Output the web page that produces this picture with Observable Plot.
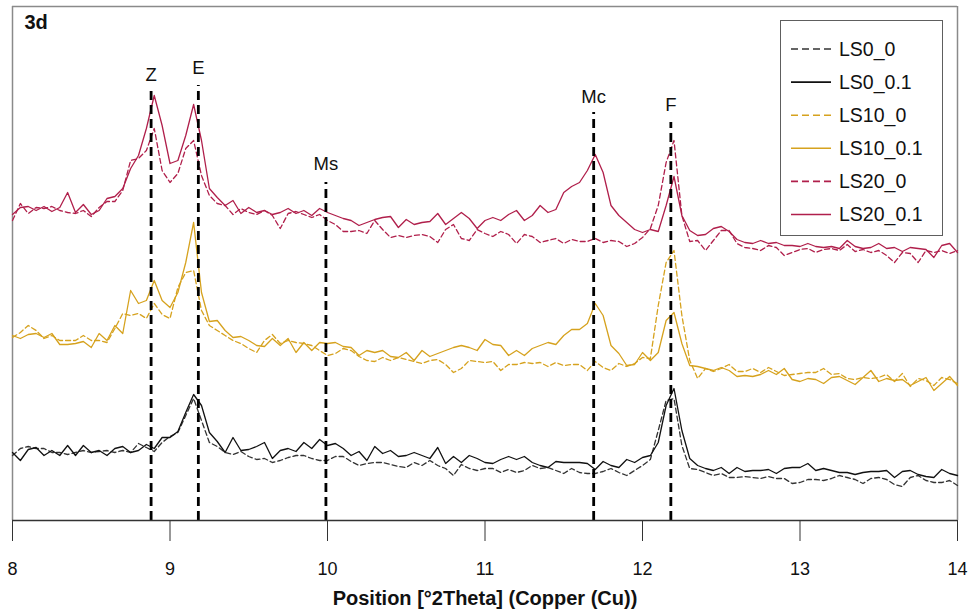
<!DOCTYPE html>
<html>
<head>
<meta charset="utf-8">
<script src="https://cdn.jsdelivr.net/npm/d3@7"></script>
<script src="https://cdn.jsdelivr.net/npm/@observablehq/plot@0.6"></script>
<style>
  html, body { margin: 0; padding: 0; background: #fff; }
  #wrap { position: relative; width: 974px; height: 609px; font-family: "Liberation Sans", Arial, sans-serif; }
  #legend { position: absolute; left: 780px; top: 20px; width: 161px; height: 214px; border: 1.3px solid #5e5e5e; background: #fff; }
</style>
</head>
<body>
<div id="wrap"></div>
<script>
// 2-theta positions (degrees)
const theta = [
  8.00,8.05,8.10,8.15,8.20,8.25,8.30,8.35,8.40,8.45,8.50,8.55,8.60,8.65,8.70,8.75,8.80,8.85,8.90,8.95,
  9.00,9.05,9.10,9.15,9.20,9.25,9.30,9.35,9.40,9.45,9.50,9.55,9.60,9.65,9.70,9.75,9.80,9.85,9.90,9.95,
  10.00,10.05,10.10,10.15,10.20,10.25,10.30,10.35,10.40,10.45,10.50,10.55,10.60,10.65,10.70,10.75,10.80,10.85,10.90,10.95,
  11.00,11.05,11.10,11.15,11.20,11.25,11.30,11.35,11.40,11.45,11.50,11.55,11.60,11.65,11.70,11.75,11.80,11.85,11.90,11.95,
  12.00,12.05,12.10,12.15,12.20,12.25,12.30,12.35,12.40,12.45,12.50,12.55,12.60,12.65,12.70,12.75,12.80,12.85,12.90,12.95,
  13.00,13.05,13.10,13.15,13.20,13.25,13.30,13.35,13.40,13.45,13.50,13.55,13.60,13.65,13.70,13.75,13.80,13.85,13.90,13.95,
  14.00
];

// Intensities (arbitrary units, offset patterns as in the figure)
const LS0_0 = [
  65,72,74,72,72,68,68,66,68,70, 68,69,70,68,70,68,77,73,69,78,
  84,88,105,122,100,78,74,68,66,69, 64,61,62,58,60,63,65,65,62,60,
  60,64,64,59,55,57,58,58,56,54, 53,58,55,60,55,52,45,56,52,50,
  52,52,48,51,48,50,55,52,53,50, 47,52,48,47,47,49,52,48,45,50,
  55,61,90,120,122,75,52,51,48,45, 47,43,43,44,43,42,44,42,42,37,
  38,41,41,40,42,45,43,41,37,42, 43,41,36,34,43,45,40,38,38,40,
  35
];
const LS0_01 = [
  68,60,71,73,65,70,65,75,65,75, 68,70,65,72,74,68,70,76,72,83,
  83,89,108,126,115,88,79,68,83,70, 71,74,78,62,70,72,69,78,72,81,
  75,77,72,65,69,60,74,67,70,64, 65,68,65,62,73,57,64,58,65,62,
  58,57,61,64,61,64,58,55,53,59, 58,58,58,57,51,59,55,53,61,58,
  63,65,78,115,132,90,62,55,52,50, 53,47,53,49,50,50,51,47,52,53,
  53,57,50,52,50,48,48,46,48,49, 49,50,43,49,50,46,44,43,51,47,
  45
];
const LS10_0 = [
  183,188,195,190,182,185,180,180,180,185, 180,180,178,192,207,205,207,202,217,206,
  202,233,248,250,210,195,190,185,180,177, 172,168,180,186,177,180,178,177,175,170,
  165,167,172,170,164,160,159,163,160,163, 161,159,157,160,161,156,148,152,160,159,
  158,159,150,156,156,158,157,158,154,158, 155,156,156,150,159,153,150,157,154,157,
  163,162,215,258,270,205,160,142,152,149, 152,156,149,149,152,148,153,149,145,146,
  147,148,148,152,146,147,142,141,143,142, 143,146,139,147,134,142,140,135,143,141,
  137
];
const LS10_01 = [
  185,182,186,187,183,187,176,176,177,179, 173,187,180,195,187,230,217,220,240,220,
  213,228,258,298,228,199,200,190,183,184, 180,175,174,182,175,182,168,178,170,178,
  177,178,174,173,165,170,168,170,164,163, 168,160,170,164,167,170,173,175,173,170,
  181,176,175,165,170,165,172,175,178,176, 185,191,191,197,217,205,175,167,155,156,
  168,160,168,200,208,177,155,154,152,150, 153,150,144,145,144,146,150,146,152,141,
  139,142,141,137,143,144,140,136,143,150, 139,142,140,141,135,139,143,130,137,144,
  135
];
const LS20_0 = [
  300,317,307,313,312,314,310,308,307,310, 304,313,319,319,330,360,362,370,392,350,
  338,347,372,380,345,325,317,315,306,312, 308,306,310,305,292,307,309,306,303,306,
  300,296,289,289,290,287,300,291,283,285, 283,285,286,284,278,291,296,282,280,291,
  287,284,289,286,277,286,284,278,280,282, 277,281,279,279,282,278,280,279,274,277,
  283,292,315,358,380,305,279,280,270,280, 290,290,277,273,272,270,275,273,265,268,
  271,272,268,271,272,270,276,269,271,268, 270,265,258,268,267,258,270,268,270,267,
  270
];
const LS20_01 = [
  306,313,314,310,314,309,313,328,308,316, 306,310,322,324,332,352,365,392,425,395,
  357,360,385,416,380,332,323,315,320,307, 313,308,310,306,308,312,307,310,305,312,
  308,305,302,300,295,298,301,303,304,293, 301,296,298,299,307,296,302,308,302,292,
  300,303,300,306,310,300,305,315,308,311, 328,334,338,350,366,348,315,305,298,291,
  288,291,289,315,344,305,290,285,286,292, 294,289,281,278,277,280,277,278,275,275,
  274,277,274,273,274,272,280,274,272,273, 277,272,273,269,273,272,271,263,275,277,
  268
];

const seriesNames  = ["LS0_0", "LS0_0.1", "LS10_0", "LS10_0.1", "LS20_0", "LS20_0.1"];
const seriesValues = [LS0_0, LS0_01, LS10_0, LS10_01, LS20_0, LS20_01];
const seriesColors = ["#333333", "#111111", "#d6a21e", "#d6a21e", "#b01f4b", "#b01f4b"];
const seriesDashed = [true, false, true, false, true, false];

// Phase reference lines
const phaseLabels    = ["Z", "E", "Ms", "Mc", "F"];
const phasePositions = [8.88, 9.18, 9.99, 11.69, 12.18];
const phaseLineTop   = [430, 435, 338, 408, 398];
const phaseLabelY    = [445, 452, 356, 423, 415];

const xTicks = [8, 9, 10, 11, 12, 13, 14];
const panelLabel = "3d";
const xTitle = "Position [°2Theta] (Copper (Cu))";

const FONT = '"Liberation Sans", Arial, sans-serif';

const phases = phaseLabels.map((label, i) => ({
  label, pos: phasePositions[i], top: phaseLineTop[i], labelY: phaseLabelY[i]
}));

const lineMarks = seriesNames.map((name, s) => {
  const rows = theta.map((t, i) => ({ theta: t, intensity: seriesValues[s][i] }));
  return Plot.line(rows, {
    x: "theta", y: "intensity",
    stroke: seriesColors[s],
    strokeWidth: 1.3,
    strokeDasharray: seriesDashed[s] ? "5,3" : null,
    strokeLinejoin: "round"
  });
});

const chart = Plot.plot({
  width: 974,
  height: 609,
  marginLeft: 12,
  marginRight: 17,
  marginTop: 6,
  marginBottom: 89,
  style: { fontFamily: FONT, background: "white", color: "#000", overflow: "visible" },
  x: { domain: [8, 14] },
  y: { domain: [0, 514], axis: null },
  marks: [
    Plot.ruleX([8, 14], { stroke: "#8a8a8a", strokeWidth: 1.5 }),
    Plot.ruleY([514], { stroke: "#8a8a8a", strokeWidth: 1.5 }),
    ...lineMarks,
    Plot.ruleX(phases, { x: "pos", y1: 0, y2: "top", stroke: "#000", strokeWidth: 2.8, strokeDasharray: "9,5" }),
    Plot.text(phases, { x: "pos", y: "labelY", text: "label", fontSize: 18.5, fill: "#111" }),
    Plot.ruleY([0], { stroke: "#333", strokeWidth: 1.3 }),
    Plot.axisX({ ticks: xTicks, tickSize: 21, tickPadding: 21, fontSize: 18, tickFormat: d => String(d), label: null, stroke: "#333", fill: "#111" }),
    Plot.text([xTitle], { frameAnchor: "bottom", dy: 84, fontWeight: "bold", fontSize: 20, fill: "#111" }),
    Plot.text([panelLabel], { frameAnchor: "top-left", dx: 12, dy: 8, fontWeight: "bold", fontSize: 20, textAnchor: "start", fill: "#111" })
  ]
});

const wrap = document.getElementById("wrap");
wrap.appendChild(chart);

// Legend
const legend = document.createElement("div");
legend.id = "legend";
const rowH = 33.1, firstY = 28;
let svg = `<svg width="161" height="214" xmlns="http://www.w3.org/2000/svg" style="display:block">`;
seriesNames.forEach((name, i) => {
  const y = firstY + i * rowH;
  svg += `<line x1="10" x2="50" y1="${y}" y2="${y}" stroke="${seriesColors[i]}" stroke-width="1.6" ${seriesDashed[i] ? 'stroke-dasharray="7,4"' : ''}/>`;
  svg += `<text x="58" y="${y}" dy="0.35em" font-family='${FONT}' font-size="19.5" fill="#111">${name}</text>`;
});
svg += `</svg>`;
legend.innerHTML = svg;
wrap.appendChild(legend);
</script>
</body>
</html>
